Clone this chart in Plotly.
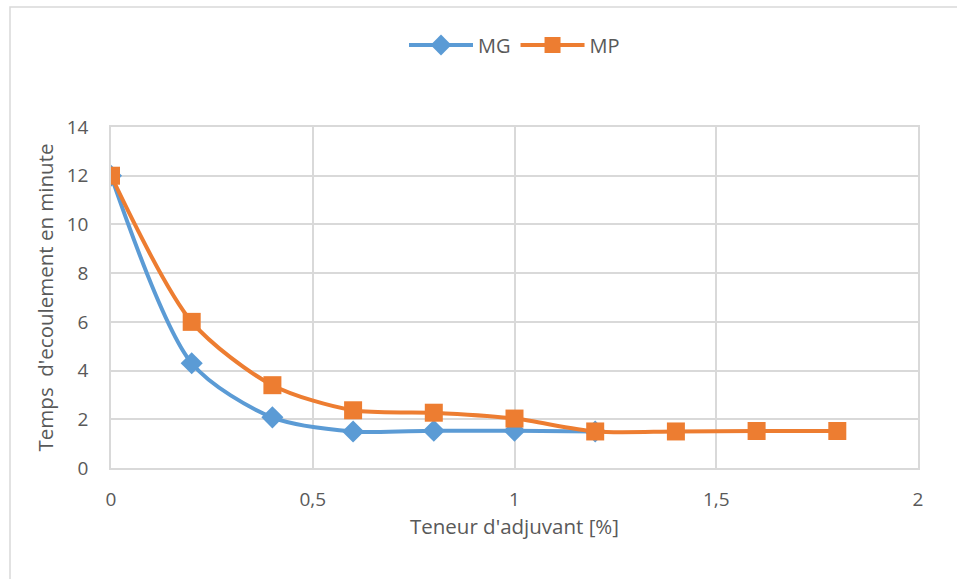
import plotly.graph_objects as go

x_mg = [0, 0.2, 0.4, 0.6, 0.8, 1.0, 1.2]
y_mg = [12, 4.3, 2.08, 1.5, 1.53, 1.53, 1.5]
x_mp = [0, 0.2, 0.4, 0.6, 0.8, 1.0, 1.2, 1.4, 1.6, 1.8]
y_mp = [12, 6.0, 3.4, 2.37, 2.27, 2.03, 1.5, 1.5, 1.52, 1.52]

font = "Open Sans"
grey = "#595959"

fig = go.Figure()
fig.add_trace(go.Scatter(x=x_mg, y=y_mg, name="MG", mode="lines+markers",
                         line=dict(color="#5B9BD5", width=4, shape="spline", smoothing=0.8),
                         marker=dict(symbol="diamond", size=17, color="#5B9BD5")))
fig.add_trace(go.Scatter(x=x_mp, y=y_mp, name="MP", mode="lines+markers",
                         line=dict(color="#ED7D31", width=4, shape="spline", smoothing=0.8),
                         marker=dict(symbol="square", size=18, color="#ED7D31")))

fig.update_layout(
    width=957, height=579,
    margin=dict(l=111, r=39, t=127, b=111, autoexpand=False),
    paper_bgcolor="white", plot_bgcolor="white",
    font=dict(family=font, size=18, color=grey),
    showlegend=True,
    legend=dict(orientation="h", x=0.5, xanchor="center", y=1 + 82/341, yanchor="middle",
                font=dict(size=20, color=grey), bgcolor="rgba(0,0,0,0)", itemwidth=64),
    xaxis=dict(range=[0, 2], dtick=0.5, tickformat=",.1~f",
               showgrid=True, gridcolor="#d9d9d9", gridwidth=1.5,
               showline=True, linecolor="#d9d9d9", linewidth=1.5, mirror=True,
               zeroline=False, ticks="", tickfont=dict(size=19, color=grey),
               ticklabelstandoff=13,
               title=dict(text="Teneur d'adjuvant [%]", font=dict(size=20.5, color=grey), standoff=3)),
    yaxis=dict(range=[0, 14], dtick=2,
               showgrid=True, gridcolor="#d9d9d9", gridwidth=1.5,
               showline=True, linecolor="#d9d9d9", linewidth=1.5, mirror=True,
               zeroline=False, ticks="", tickfont=dict(size=19, color=grey),
               ticklabelstandoff=17,
               title=dict(text="Temps  d'ecoulement en minute", font=dict(size=20.5, color=grey), standoff=8)),
    separators=", ",
    shapes=[dict(type="rect", xref="paper", yref="paper",
                 x0=-101/807, x1=1 + 60/807, y0=-140/341, y1=1 + 120/341,
                 line=dict(color="#d9d9d9", width=1.5), layer="below")],
)

fig.write_html("out.html")
